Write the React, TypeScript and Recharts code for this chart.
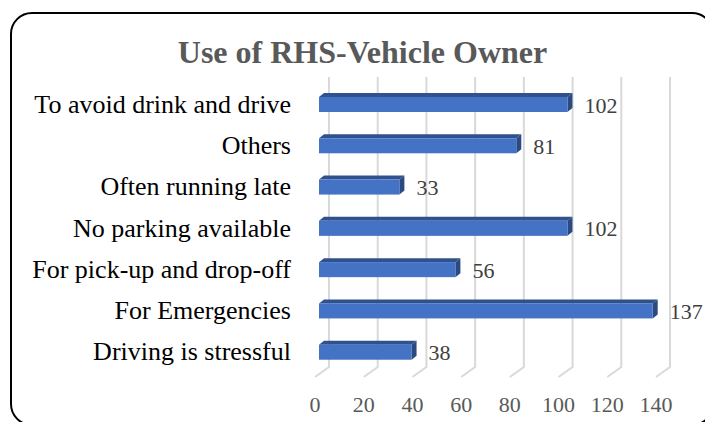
import { BarChart, Bar, XAxis, YAxis, CartesianGrid, LabelList } from 'recharts';

const categories = [
  'To avoid drink and drive',
  'Others',
  'Often running late',
  'No parking available',
  'For pick-up and drop-off',
  'For Emergencies',
  'Driving is stressful',
];
const counts = [102, 81, 33, 102, 56, 137, 38];
const xTicks = [0, 20, 40, 60, 80, 100, 120, 140];

const data = categories.map((name, i) => ({ name, value: counts[i] }));

const FONT = '"Liberation Serif", "Times New Roman", serif';
const DX = 5;
const DY = 4;

function Bar3D(props: any) {
  const { x, y, width, height } = props;
  if (width <= 0) return null;
  const r = x + width;
  return (
    <g>
      <path d={`M${x},${y} L${x + DX},${y - DY} L${r + DX},${y - DY} L${r},${y} Z`} fill="#2f528f" />
      <path d={`M${r},${y} L${r + DX},${y - DY} L${r + DX},${y + height - DY} L${r},${y + height} Z`} fill="#2a4a82" />
      <rect x={x} y={y} width={width} height={height} fill="#4472c4" />
    </g>
  );
}

function GridLine(props: any) {
  const { x1, y1, y2 } = props;
  return (
    <path
      d={`M${x1 + 10},${y1 - 7} L${x1 + 10},${y2 - 6} L${x1 - 4},${y2 + 4}`}
      stroke="#d9d9d9"
      strokeWidth={2}
      fill="none"
    />
  );
}

function CatTick(props: any) {
  const { y, payload } = props;
  return (
    <text x={291} y={y} dy={8} textAnchor="end" fontFamily={FONT} fontSize={26} fill="#000">
      {payload.value}
    </text>
  );
}

function ValTick(props: any) {
  const { x, payload } = props;
  return (
    <text x={x - 4} y={412} textAnchor="middle" fontFamily={FONT} fontSize={22} fill="#595959">
      {payload.value}
    </text>
  );
}

function ValueLabel(props: any) {
  const { x, y, width, height, value } = props;
  return (
    <text x={x + width + 17} y={y + height / 2 + 8} fontFamily={FONT} fontSize={22} fill="#404040">
      {value}
    </text>
  );
}

export default function App() {
  return (
    <div style={{ position: 'absolute', left: 0, top: 0, width: 705, height: 422, overflow: 'hidden', background: '#fff' }}>
      <div
        style={{
          position: 'absolute',
          left: 10,
          top: 12,
          width: 700,
          height: 410,
          border: '2.5px solid #000',
          borderRadius: 22,
        }}
      />
      <div
        style={{
          position: 'absolute',
          left: 0,
          width: 725,
          top: 33,
          textAlign: 'center',
          fontFamily: FONT,
          fontWeight: 'bold',
          fontSize: 32,
          lineHeight: '38px',
          color: '#595959',
        }}
      >
        Use of RHS-Vehicle Owner
      </div>
      <div style={{ position: 'absolute', left: 0, top: 0 }}>
        <BarChart
          width={705}
          height={422}
          data={data}
          layout="vertical"
          margin={{ top: 84, right: 45, bottom: 0, left: 0 }}
          barSize={15}
        >
          <CartesianGrid horizontal={false} vertical={GridLine as any} />
          <XAxis
            type="number"
            domain={[0, 140]}
            ticks={xTicks}
            axisLine={false}
            tickLine={false}
            tick={ValTick}
            height={49}
            interval={0}
          />
          <YAxis
            type="category"
            dataKey="name"
            width={319}
            axisLine={false}
            tickLine={false}
            tick={CatTick}
            interval={0}
          />
          <Bar dataKey="value" shape={Bar3D} isAnimationActive={false}>
            <LabelList dataKey="value" content={ValueLabel} />
          </Bar>
        </BarChart>
      </div>
    </div>
  );
}
